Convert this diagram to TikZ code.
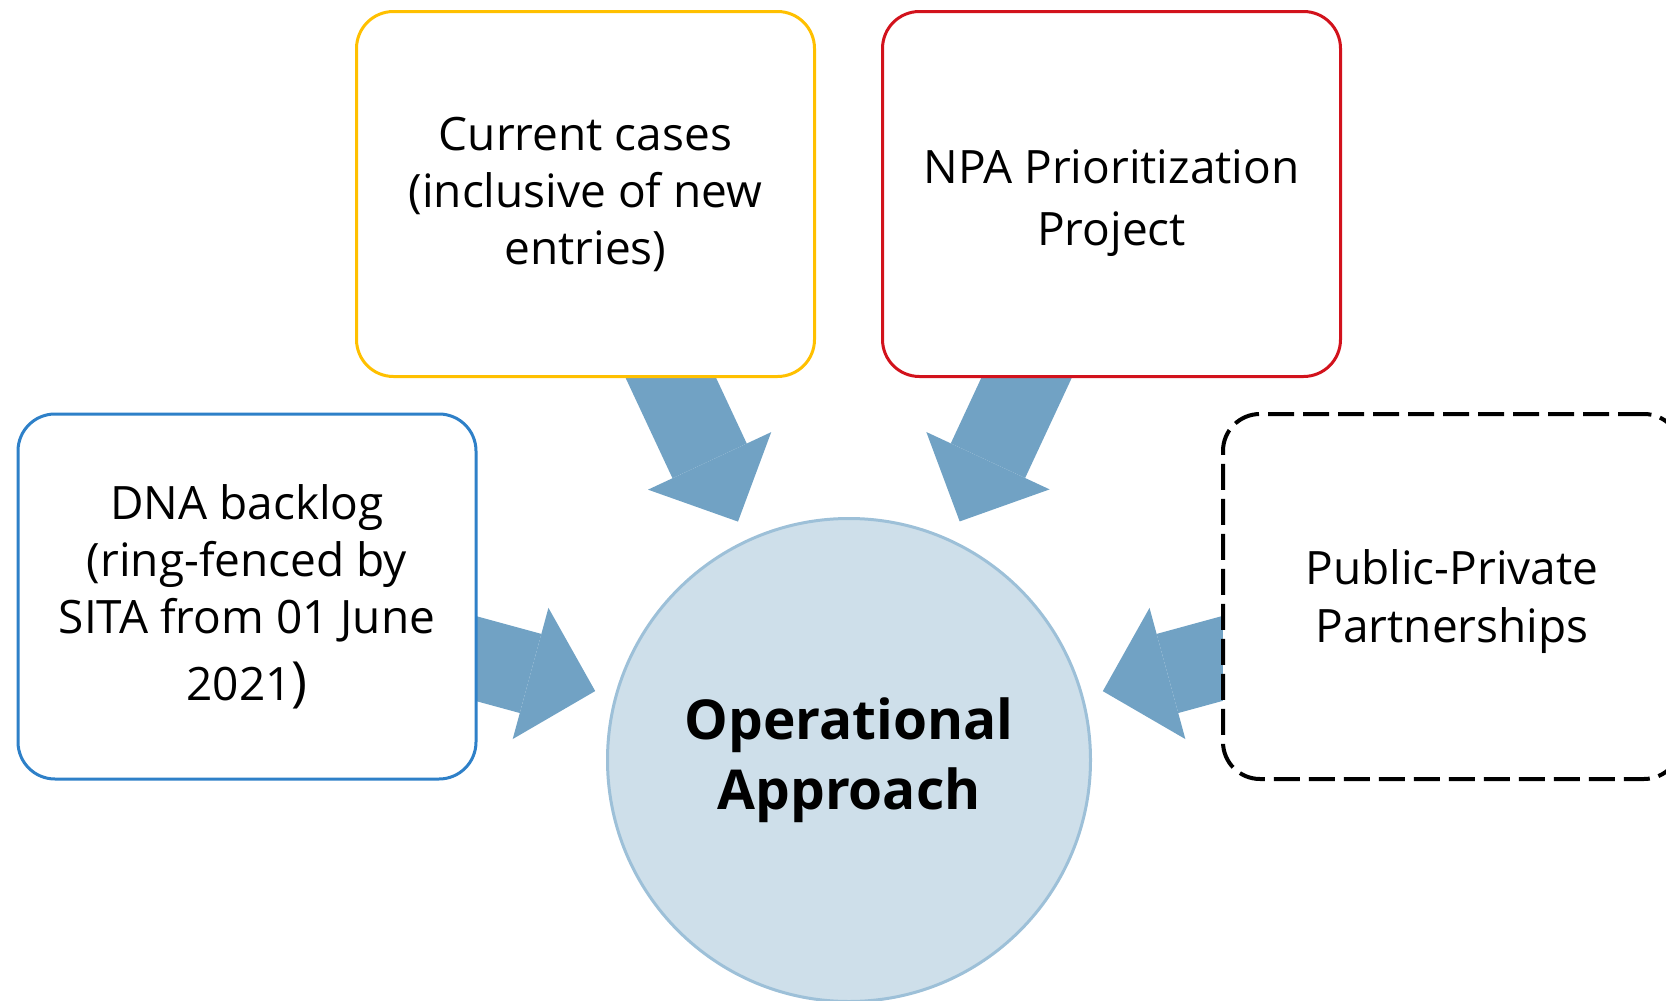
\documentclass[tikz,border=0pt]{standalone}
\usepackage{fontspec}
\setmainfont{Open Sans}
\usetikzlibrary{arrows.meta, positioning, backgrounds}

\definecolor{dnablue}{RGB}{46,128,200}
\definecolor{curyellow}{RGB}{255,192,0}
\definecolor{npared}{RGB}{210,18,28}
\definecolor{arrowblue}{RGB}{113,162,196}
\definecolor{hubfill}{RGB}{206,223,234}
\definecolor{hubline}{RGB}{157,192,216}

\begin{document}
\begin{tikzpicture}[x=1pt, y=-1pt, node distance={526pt},
    main/.style = {draw, rounded corners=37pt, line width=3pt, fill=white, minimum width=458pt, minimum height=365pt, inner sep=0pt, align=center, font=\fontsize{46}{57}\selectfont},
    hub/.style = {circle, draw=hubline, fill=hubfill, line width=3pt, minimum size=483pt, inner sep=0pt, align=center, font=\fontsize{55}{70}\selectfont\bfseries},
    flow/.style = {draw, color=arrowblue, line width=82pt, shorten <=-24pt, shorten >=20pt, -{Triangle[width=136pt, length=67pt, line width=0pt]}}]
    \useasboundingbox (0,0) rectangle (1666,1001);

    \node[hub] (OA) at (849,760) {Operational\\Approach};

    \node[main, draw=curyellow] (Cur) at (585.5,194) {Current cases\\(inclusive of new\\entries)};
    \node[main, draw=npared, font=\fontsize{46}{62}\selectfont] (NPA) [right of=Cur] {\rule{0pt}{52pt}NPA Prioritization\\Project};

    \node[main, draw=dnablue] (DNA) at (247,596.5) {DNA backlog\\(ring-fenced by\\SITA from 01 June\\[10pt]2021{\fontsize{54}{57}\selectfont)}};
    \node[main, line width=4pt, dash pattern=on 26pt off 9pt, font=\fontsize{46}{58}\selectfont] (PPP) at (1452,596.5) {\rule{0pt}{46pt}Public-Private\\Partnerships};

    % block arrows into the hub
    \begin{scope}[on background layer]
        \path[flow] (DNA) edge (OA);
        \path[flow] (Cur) edge (OA);
        \path[flow] (NPA) edge (OA);
        \path[flow] (PPP) edge (OA);
    \end{scope}
\end{tikzpicture}
\end{document}
